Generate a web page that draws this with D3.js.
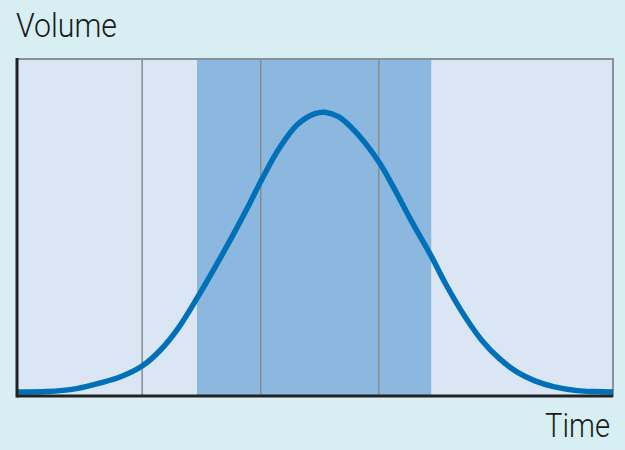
<!DOCTYPE html>
<html><head><meta charset="utf-8">
<script src="https://cdn.jsdelivr.net/npm/d3@7"></script>
<style>html,body{margin:0;padding:0;background:#d7eef2;}svg{display:block;}</style>
</head><body>
<svg id="c" width="625" height="450"></svg>
<script>
// data
const timeValues   = [0, 5, 10, 14, 17.5, 21, 24, 27, 30.2, 33, 36, 39, 41, 44, 47, 50, 51.7, 54, 57, 60.7, 63, 66, 69.5, 72, 75, 78, 81, 84, 87, 90, 94, 97, 100];
const volumeValues = [1.2, 1.3, 2.2, 3.9, 5.8, 8.9, 13.5, 20, 29, 37.5, 47, 57, 64, 73.5, 80.5, 83.8, 84.2, 82.8, 78, 69.5, 62.5, 52.5, 41.5, 33, 24, 16.5, 11, 7, 4.4, 2.8, 1.6, 1.3, 1.2];
const gridTimes = [21.0, 40.9, 60.7];
const bandRange = [30.2, 69.5];
const yLabel = "Volume";
const xLabel = "Time";

(function () {
const svg = d3.select("#c");
const mLeft = 17, mRight = 613, mTop = 59, mBottom = 396;
const x = d3.scaleLinear().domain([0, 100]).range([mLeft, mRight]);
const y = d3.scaleLinear().domain([0, 100]).range([mBottom, mTop]);

svg.append("rect").attr("x", 0).attr("y", 0).attr("width", 625).attr("height", 450).attr("fill", "#d7eef2");
// plot area
svg.append("rect").attr("x", x(0)).attr("y", y(100)).attr("width", x(100) - x(0)).attr("height", y(0) - y(100))
  .attr("fill", "#dae6f3").attr("stroke", "#8a9097").attr("stroke-width", 2);
// band
svg.append("rect").attr("x", x(bandRange[0])).attr("y", y(100) + 1).attr("width", x(bandRange[1]) - x(bandRange[0])).attr("height", y(0) - y(100) - 1)
  .attr("fill", "#8cb8df");
// gridlines
svg.selectAll(".g").data(gridTimes).enter().append("line")
  .attr("x1", d => x(d)).attr("x2", d => x(d)).attr("y1", y(100)).attr("y2", y(0))
  .attr("stroke", "#868c93").attr("stroke-width", 1.5);
// curve
const line = d3.line().x((d, i) => x(timeValues[i])).y(d => y(d)).curve(d3.curveCatmullRom.alpha(0.5));
svg.append("path").datum(volumeValues).attr("d", line).attr("fill", "none")
  .attr("stroke", "#0071b9").attr("stroke-width", 5.5).attr("stroke-linecap", "butt");
// axes
svg.append("line").attr("x1", x(0)).attr("x2", x(100)).attr("y1", y(0)).attr("y2", y(0)).attr("stroke", "#222").attr("stroke-width", 3);
svg.append("line").attr("x1", x(0)).attr("x2", x(0)).attr("y1", y(100) - 1).attr("y2", y(0) + 1.5).attr("stroke", "#222").attr("stroke-width", 3);
// labels
svg.append("text").attr("x", 16).attr("y", 37).text(yLabel)
  .attr("font-family", "Roboto").attr("font-weight", 300).attr("font-size", 33).attr("fill", "#1a1a1a").attr("textLength", 101).attr("lengthAdjust", "spacingAndGlyphs");
svg.append("text").attr("x", 610).attr("y", 437).attr("text-anchor", "end").text(xLabel)
  .attr("font-family", "Roboto").attr("font-weight", 300).attr("font-size", 33).attr("fill", "#1a1a1a").attr("textLength", 65).attr("lengthAdjust", "spacingAndGlyphs");
})();
</script>
</body></html>
